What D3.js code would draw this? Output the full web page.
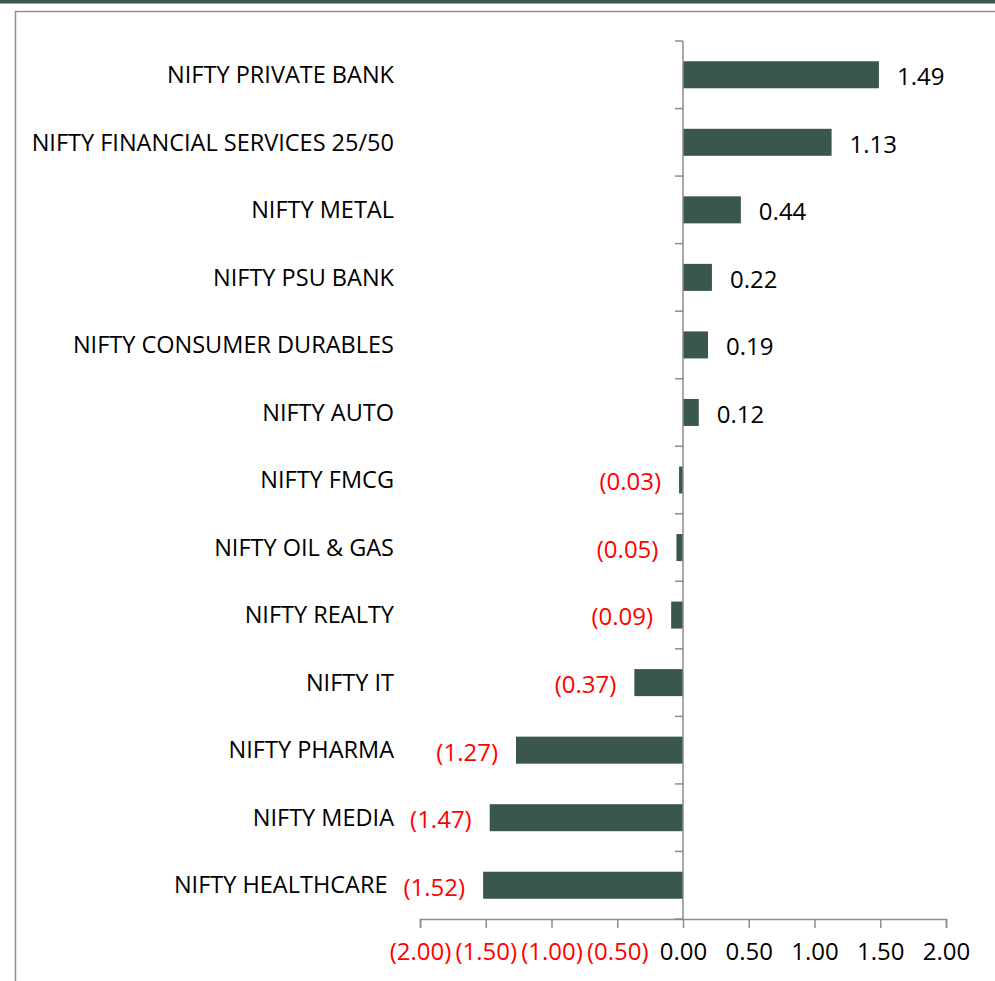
<!DOCTYPE html>
<html><head><meta charset="utf-8">
<script src="https://cdn.jsdelivr.net/npm/d3@7"></script>
<style>body{margin:0;background:#fff}svg{display:block}</style>
</head><body>
<script>
const categories = ["NIFTY PRIVATE BANK","NIFTY FINANCIAL SERVICES 25/50","NIFTY METAL","NIFTY PSU BANK","NIFTY CONSUMER DURABLES","NIFTY AUTO","NIFTY FMCG","NIFTY OIL & GAS","NIFTY REALTY","NIFTY IT","NIFTY PHARMA","NIFTY MEDIA","NIFTY HEALTHCARE"];
const values = [1.49,1.13,0.44,0.22,0.19,0.12,-0.03,-0.05,-0.09,-0.37,-1.27,-1.47,-1.52];
const xTicks = [-2,-1.5,-1,-0.5,0,0.5,1,1.5,2];

const W=995,H=981;
const svg=d3.select("body").append("svg").attr("width",W).attr("height",H);
const font="Open Sans, sans-serif";
const fmt=v=> v<0 ? "("+Math.abs(v).toFixed(2)+")" : v.toFixed(2);
const green="#3a574b", axisC="#8c8c8c";

svg.append("rect").attr("x",0).attr("y",0).attr("width",W).attr("height",3.5).attr("fill","#3a574b");
svg.append("path").attr("d",`M15.5,${H} V11.5 H${W}`).attr("fill","none").attr("stroke","#909090").attr("stroke-width",1.5);

const x=d3.scaleLinear().domain([-2,2]).range([420,946]);
const y=d3.scaleBand().domain(categories).range([41,919]).paddingInner(0.6).paddingOuter(0.3);
const band=(919-41)/categories.length;

svg.selectAll("rect.bar").data(values).join("rect").attr("class","bar")
  .attr("x",d=>x(Math.min(0,d))).attr("width",d=>Math.abs(x(d)-x(0)))
  .attr("y",(d,i)=>y(categories[i])).attr("height",y.bandwidth()).attr("fill",green);

// y axis line and ticks
const g=svg.append("g");
g.append("line").attr("x1",x(0)).attr("x2",x(0)).attr("y1",41).attr("y2",919).attr("stroke",axisC).attr("stroke-width",1.5);
d3.range(categories.length+1).forEach(i=>{
  const yy=41+i*band;
  g.append("line").attr("x1",x(0)-8).attr("x2",x(0)).attr("y1",yy).attr("y2",yy).attr("stroke",axisC).attr("stroke-width",1.5);
});
// x axis
const xa=svg.append("g").attr("transform","translate(0,919)")
  .call(d3.axisBottom(x).tickValues(xTicks).tickSize(9).tickFormat(fmt));
xa.select(".domain").attr("stroke",axisC).attr("stroke-width",1.5);
xa.selectAll(".tick line").attr("stroke",axisC).attr("stroke-width",1.5);
xa.selectAll(".tick text").attr("font-family",font).attr("font-size",24).attr("y",24)
  .attr("fill",d=>d<0?"#ff0000":"#000");

// value labels
const vals=svg.selectAll("text.val").data(values).join("text").attr("class","val")
  .attr("x",d=>d<0? x(d)-18 : x(d)+18)
  .attr("y",(d,i)=>y(categories[i])+y.bandwidth()/2+2).attr("dy","0.35em")
  .attr("text-anchor",d=>d<0?"end":"start")
  .attr("font-family",font).attr("font-size",24).attr("fill",d=>d<0?"#ff0000":"#000").text(fmt);
const valLeft=vals.nodes().map(n=>n.getBBox().x);

// category labels (shifted left when they would collide with a value label)
svg.selectAll("text.cat").data(categories).join("text").attr("class","cat")
  .attr("x",(d,i)=>Math.min(394, valLeft[i]-16)).attr("y",d=>y(d)+y.bandwidth()/2).attr("dy","0.35em")
  .attr("text-anchor","end").attr("font-family",font).attr("font-size",23.5).attr("fill","#000").text(d=>d);
</script>
</body></html>
